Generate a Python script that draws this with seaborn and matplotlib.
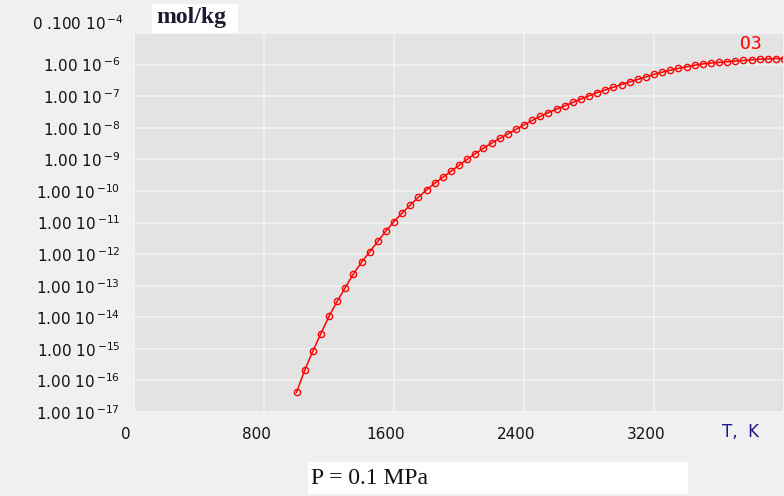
"""
O3 concentration vs temperature at P = 0.1 MPa (log scale)
"""

import pandas as pd
import matplotlib
matplotlib.use("Agg")
import matplotlib.pyplot as plt
import matplotlib.ticker as mticker
import matplotlib.transforms as mtrans
from matplotlib.patches import Rectangle
import seaborn as sns

# ---- data ----
temperature = [1000, 1050, 1100, 1150, 1200, 1250, 1300, 1350, 1400, 1450,
               1500, 1550, 1600, 1650, 1700, 1750, 1800, 1850, 1900, 1950,
               2000, 2050, 2100, 2150, 2200, 2250, 2300, 2350, 2400, 2450,
               2500, 2550, 2600, 2650, 2700, 2750, 2800, 2850, 2900, 2950,
               3000, 3050, 3100, 3150, 3200, 3250, 3300, 3350, 3400, 3450,
               3500, 3550, 3600, 3650, 3700, 3750, 3800, 3850, 3900, 3950,
               4000]
o3_conc = [4.17e-17, 2.09e-16, 8.32e-16, 3.02e-15, 1.07e-14, 3.16e-14,
           8.71e-14, 2.34e-13, 5.50e-13, 1.17e-12, 2.51e-12, 5.37e-12,
           1.07e-11, 2.00e-11, 3.55e-11, 6.31e-11, 1.07e-10, 1.74e-10,
           2.69e-10, 4.17e-10, 6.46e-10, 1.00e-9, 1.51e-9, 2.24e-9,
           3.24e-9, 4.57e-9, 6.31e-9, 8.91e-9, 1.23e-8, 1.70e-8,
           2.29e-8, 3.02e-8, 3.89e-8, 4.90e-8, 6.31e-8, 8.13e-8,
           1.02e-7, 1.29e-7, 1.58e-7, 1.91e-7, 2.34e-7, 2.82e-7,
           3.39e-7, 4.07e-7, 4.90e-7, 5.75e-7, 6.61e-7, 7.59e-7,
           8.51e-7, 9.55e-7, 1.05e-6, 1.12e-6, 1.17e-6, 1.23e-6,
           1.29e-6, 1.35e-6, 1.41e-6, 1.48e-6, 1.51e-6, 1.55e-6,
           1.55e-6]

x_ticks = [0, 800, 1600, 2400, 3200]
y_exponents = [-6, -7, -8, -9, -10, -11, -12, -13, -14, -15, -16, -17]

FIG_BG = "#f0f0f0"
AX_BG = "#e3e3e3"
GRID = "#f2f2f2"
RED = "#ff0000"
NAVY = "#1a1a8c"


def main():
    sns.set_style("darkgrid", {"axes.facecolor": AX_BG, "grid.color": GRID,
                               "figure.facecolor": FIG_BG})
    plt.rcParams["font.family"] = ["DejaVu Sans"]

    df = pd.DataFrame({"T": temperature, "c": o3_conc})

    fig = plt.figure(figsize=(7.84, 4.96), dpi=100)
    W, H = 784, 496
    ax = fig.add_axes([134 / W, (H - 412) / H, 650 / W, 379 / H])

    sns.lineplot(data=df, x="T", y="c", ax=ax, color=RED, linewidth=1.1,
                 marker="o", markersize=4.5, markerfacecolor="none",
                 markeredgecolor=RED, markeredgewidth=1.0)

    ax.set_yscale("log")
    ax.set_xlim(0, 3985)
    ax.set_ylim(1e-17, 1e-5)
    ax.set_xlabel("")
    ax.set_ylabel("")

    ax.set_xticks(x_ticks + [4000])
    ax.set_xticklabels([str(t) for t in x_ticks] + [""])
    ax.set_yticks([10.0 ** e for e in y_exponents] + [1e-5])
    ylabels = [r"1.00 10$^{\,\minus%d}$" % (-e) for e in y_exponents] + [""]
    ax.set_yticklabels(ylabels)
    ax.yaxis.set_minor_locator(mticker.NullLocator())
    ax.grid(True, color=GRID, linewidth=1.1)
    ax.tick_params(axis="both", length=0, labelsize=11, colors="#111111")
    ax.tick_params(axis="y", pad=10)
    ax.tick_params(axis="x", pad=11)
    for s in ax.spines.values():
        s.set_color(GRID)
        s.set_linewidth(1.5)

    # x labels sit a little left of their gridlines
    shift = mtrans.ScaledTranslation(-8 / 100, 0, fig.dpi_scale_trans)
    for lbl in ax.get_xticklabels():
        lbl.set_transform(lbl.get_transform() + shift)

    # top label sits above the plot area
    ax.annotate(r"0 .100 10$^{\,\minus4}$", xy=(0, 1e-5),
                xycoords=("axes fraction", "data"),
                xytext=(-10, 9), textcoords="offset pixels",
                ha="right", va="center", fontsize=11, color="#111111",
                annotation_clip=False)

    # series label and axis label
    fig.text(740 / W, 1 - 44 / H, "O3", color=RED, fontsize=13,
             family="DejaVu Sans Mono", va="center", ha="left")
    fig.text(722 / W, 1 - 432 / H, "T,  K", color=NAVY, fontsize=12,
             va="center", ha="left")

    # white boxes with unit and pressure
    fig.patches.append(Rectangle((152 / W, 1 - 33 / H), 86 / W, 29 / H,
                                 transform=fig.transFigure, facecolor="white",
                                 edgecolor="none", zorder=0))
    fig.text(156 / W, 1 - 18 / H, "mol/kg", family="Liberation Serif",
             fontweight="bold", fontsize=17, color="#1a1a33", va="center")
    fig.patches.append(Rectangle((308 / W, 1 - 494 / H), 380 / W, 32 / H,
                                 transform=fig.transFigure, facecolor="white",
                                 edgecolor="none", zorder=0))
    fig.text(311 / W, 1 - 478 / H, "P = 0.1 MPa", family="Liberation Serif",
             fontsize=17, color="#111111", va="center")

    fig.savefig("out.png", dpi=100, facecolor=FIG_BG)
    plt.close(fig)


if __name__ == "__main__":
    main()
